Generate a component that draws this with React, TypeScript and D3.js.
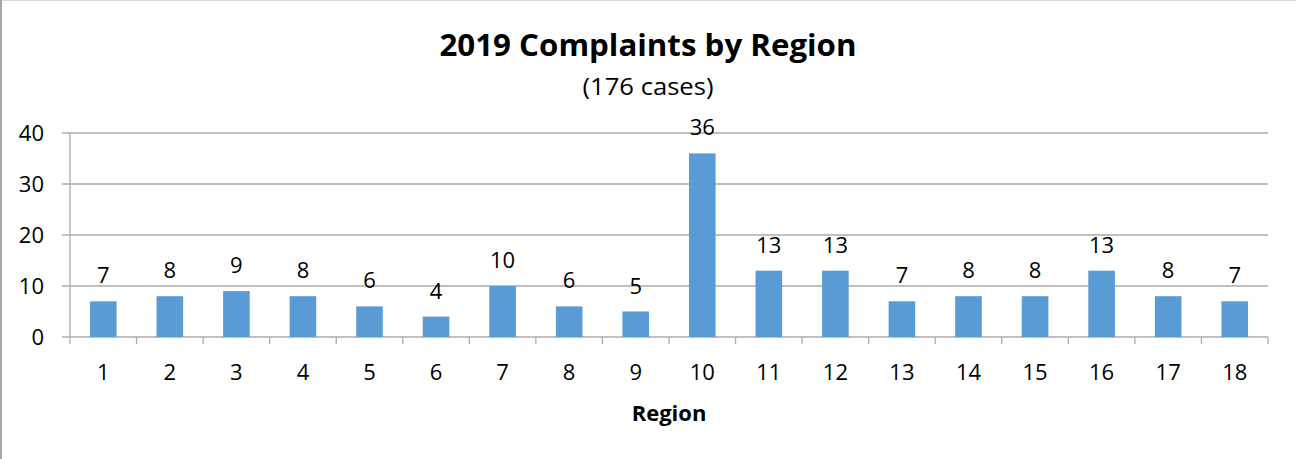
import React from 'react';
import * as d3 from 'd3';

const regions = ['1', '2', '3', '4', '5', '6', '7', '8', '9', '10', '11', '12', '13', '14', '15', '16', '17', '18'];
const complaints = [7, 8, 9, 8, 6, 4, 10, 6, 5, 36, 13, 13, 7, 8, 8, 13, 8, 7];
const yTicks = [0, 10, 20, 30, 40];

const width = 1296;
const height = 459;
const left = 70;
const right = 1268;
const top = 133;
const bottom = 337;
const font = "'Open Sans', 'Noto Sans', sans-serif";

export default function App() {
  const x = d3.scaleBand().domain(regions).range([left, right]).paddingInner(0.6).paddingOuter(0.3);
  const y = d3.scaleLinear().domain([0, 40]).range([bottom, top]);
  const step = x.step();
  const edges = d3.range(regions.length + 1).map((i) => left + i * step);

  return (
    <svg
      width={width}
      height={height}
      style={{ position: 'absolute', left: 0, top: 0, background: '#fff' }}
    >
      <line x1={0} y1={0.5} x2={width} y2={0.5} stroke='#d9d9d9' />
      <line x1={1} y1={0} x2={1} y2={height} stroke='#a6a6a6' strokeWidth={2} />

      <text
        x={648}
        y={56}
        textAnchor='middle'
        fontFamily={font}
        fontSize={30.5}
        fontWeight='bold'
        textLength={417}
        lengthAdjust='spacingAndGlyphs'
      >
        2019 Complaints by Region
      </text>
      <text
        x={648}
        y={95}
        textAnchor='middle'
        fontFamily={font}
        fontSize={24}
        textLength={131}
        lengthAdjust='spacingAndGlyphs'
      >
        (176 cases)
      </text>

      {yTicks.map((t) => (
        <g key={t}>
          <line x1={62} x2={right} y1={y(t)} y2={y(t)} stroke='#ababab' strokeWidth={1.3} />
          <text x={44} y={y(t) + 8} textAnchor='end' fontFamily={font} fontSize={22}>
            {t}
          </text>
        </g>
      ))}
      <line x1={left} x2={left} y1={top} y2={bottom} stroke='#ababab' strokeWidth={1.3} />
      {edges.map((e, i) => (
        <line key={i} x1={e} x2={e} y1={bottom} y2={bottom + 7} stroke='#ababab' strokeWidth={1.3} />
      ))}

      {regions.map((r, i) => (
        <g key={r}>
          <rect
            x={x(r)}
            y={y(complaints[i])}
            width={x.bandwidth()}
            height={bottom - y(complaints[i])}
            fill='#5b9bd5'
          />
          <text
            x={(x(r) ?? 0) + x.bandwidth() / 2}
            y={y(complaints[i]) - 18}
            textAnchor='middle'
            fontFamily={font}
            fontSize={22}
          >
            {complaints[i]}
          </text>
          <text
            x={(x(r) ?? 0) + x.bandwidth() / 2}
            y={380}
            textAnchor='middle'
            fontFamily={font}
            fontSize={22}
          >
            {r}
          </text>
        </g>
      ))}

      <text x={669} y={421} textAnchor='middle' fontFamily={font} fontSize={22} fontWeight='bold'>
        Region
      </text>
    </svg>
  );
}
